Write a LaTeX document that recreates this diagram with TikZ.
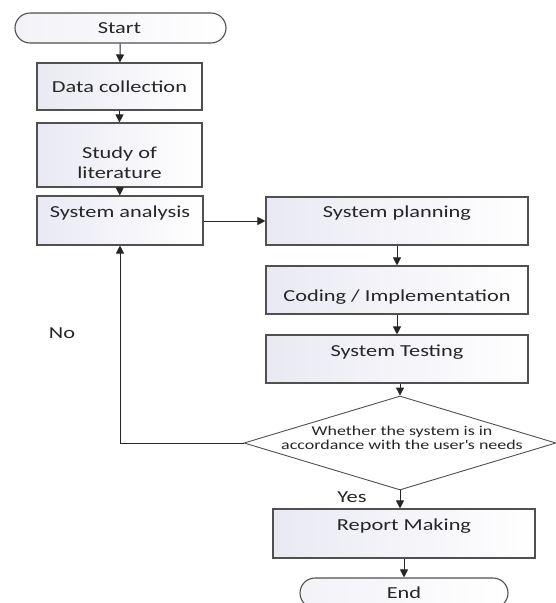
\documentclass[tikz,border=0pt]{standalone}
\usepackage{fontspec}
\setmainfont{Carlito}[FakeStretch=1.33]
\usetikzlibrary{shapes.geometric,arrows.meta}

\definecolor{boxedge}{HTML}{505050}
\definecolor{boxshade}{HTML}{E9E9F3}

\tikzset{
  box/.style={draw=boxedge, line width=1.1pt, rectangle, inner sep=0pt,
              left color=boxshade, right color=white},
  terminal/.style={draw=boxedge, line width=1.1pt, rectangle, rounded corners=15pt,
                   inner sep=0pt, left color=boxshade!60, right color=white},
  decision/.style={draw=boxedge, line width=0.9pt, diamond, inner sep=0pt,
                   fill=white},
  txt/.style={inner sep=0pt, font=\fontsize{16.8}{20}\selectfont, text=black!85,
              align=center},
  smalltxt/.style={inner sep=0pt, font=\fontsize{13.5}{14}\selectfont, text=black!85,
                   align=center},
  flow/.style={draw=black!85, line width=1pt, -{Triangle[length=8pt,width=8pt]}},
}

\begin{document}
\begin{tikzpicture}[x=1pt,y=-1pt]
\useasboundingbox (0,0) rectangle (556,603);

% process steps
\node[terminal, minimum width=211pt, minimum height=30pt] (start) at (120.5,28) {};
\node[box, minimum width=165pt, minimum height=47pt] (data) at (119.5,86.5) {};
\node[box, minimum width=165pt, minimum height=64pt] (study) at (119.5,155) {};
\node[box, minimum width=166pt, minimum height=49pt] (analysis) at (120,220.5) {};
\node[box, minimum width=262pt, minimum height=48pt] (planning) at (397,221) {};
\node[box, minimum width=262pt, minimum height=48pt] (coding) at (397,290) {};
\node[box, minimum width=262pt, minimum height=48pt] (testing) at (397,359) {};
\node[decision, minimum width=312pt, minimum height=94pt] (check) at (400,443) {};
\node[box, minimum width=262pt, minimum height=49pt] (report) at (404,533.5) {};
\node[terminal, minimum width=208pt, minimum height=30pt] (end) at (404,593) {};

% captions
\node[txt] (tstart) at (119.5,28) {Start};
\node[txt] (tdata) at (119.5,86.5) {Data collection};
\node[txt] (tstudy) at (119.5,163) {Study of\\literature};
\node[txt] (tanalysis) at (120,213) {System analysis};
\node[txt] (tplanning) at (397,213) {System planning};
\node[txt] (tcoding) at (397,297) {Coding / Implementation};
\node[txt] (ttesting) at (397,352) {System Testing};
\node[smalltxt] (tcheck) at (402,438) {Whether the system is in\\accordance with the user\textquotesingle s needs};
\node[txt] (treport) at (404,526) {Report Making};
\node[txt] (tend) at (404,593) {End};
\node[txt] (tno) at (62,333) {No};
\node[txt] (tyes) at (352,497) {Yes};

% connectors
\draw[flow] (start) -- (data);
\draw[flow] (data) -- (study);
\draw[flow] (study) -- (analysis);
\draw[flow] (analysis.east |- planning.west) -- (planning.west);
\draw[flow] (planning) -- (coding);
\draw[flow] (coding) -- (testing);
\draw[flow] (testing.south -| check.north) -- (check.north);
\draw[flow] (check.west) -| (analysis.south);
\draw[flow] (check.south) -- (check.south |- report.north);
\draw[flow] (report) -- (end);
\end{tikzpicture}
\end{document}
